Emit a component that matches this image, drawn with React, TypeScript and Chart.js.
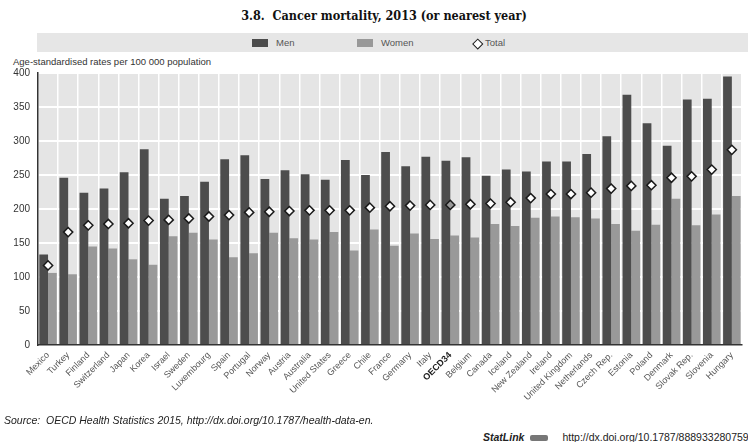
import React, { useEffect, useRef } from "react";
import { Chart, registerables } from "chart.js";

Chart.register(...registerables);

const categories = [
  "Mexico", "Turkey", "Finland", "Switzerland", "Japan", "Korea", "Israel", "Sweden",
  "Luxembourg", "Spain", "Portugal", "Norway", "Austria", "Australia", "United States",
  "Greece", "Chile", "France", "Germany", "Italy", "OECD34", "Belgium", "Canada",
  "Iceland", "New Zealand", "Ireland", "United Kingdom", "Netherlands", "Czech Rep.",
  "Estonia", "Poland", "Denmark", "Slovak Rep.", "Slovenia", "Hungary",
];

const menValues = [
  133, 246, 224, 230, 254, 288, 215, 219, 240, 273, 279, 244, 257, 251, 243, 272, 250,
  284, 263, 277, 271, 276, 249, 258, 255, 270, 270, 281, 307, 368, 326, 293, 361, 362, 395,
];

const womenValues = [
  106, 104, 145, 142, 126, 118, 160, 165, 155, 129, 135, 165, 157, 155, 166, 139, 170,
  146, 164, 156, 161, 158, 178, 175, 187, 189, 188, 186, 178, 168, 177, 215, 176, 192, 219,
];

const totalValues = [
  117, 166, 176, 178, 179, 183, 184, 186, 189, 191, 195, 196, 197, 198, 198, 198, 202,
  204, 205, 206, 206, 207, 208, 210, 216, 222, 222, 224, 230, 234, 235, 246, 248, 258, 287,
];

const yTicks = { min: 0, max: 400, step: 50 };

const highlight = "OECD34";

const MEN_COLOR = "#4d4d4d";
const WOMEN_COLOR = "#999999";
const SANS = "'Liberation Sans', Arial, sans-serif";

const plotBg = {
  id: "plotBg",
  beforeDraw(chart: any) {
    const { ctx, chartArea } = chart;
    if (!chartArea) return;
    ctx.save();
    ctx.fillStyle = "#e5e5e5";
    ctx.fillRect(chartArea.left, chartArea.top, chartArea.width, chartArea.height);
    ctx.restore();
  },
};

export default function App() {
  const ref = useRef<HTMLCanvasElement | null>(null);

  useEffect(() => {
    if (!ref.current) return;
    const hIdx = categories.indexOf(highlight);
    const chart = new Chart(ref.current, {
      type: "bar",
      data: {
        labels: categories,
        datasets: [
          {
            type: "line",
            label: "Total",
            data: totalValues,
            showLine: false,
            pointStyle: "rectRot",
            pointRadius: 4.6,
            pointBorderWidth: 1.5,
            pointBorderColor: "#1a1a1a",
            pointBackgroundColor: categories.map((_, i) => (i === hIdx ? "#999999" : "#ffffff")),
            order: 0,
          } as any,
          {
            label: "Men",
            data: menValues,
            backgroundColor: MEN_COLOR,
            categoryPercentage: 0.87,
            barPercentage: 1.0,
            order: 1,
          },
          {
            label: "Women",
            data: womenValues,
            backgroundColor: WOMEN_COLOR,
            categoryPercentage: 0.87,
            barPercentage: 1.0,
            order: 1,
          },
        ],
      },
      options: {
        responsive: false,
        animation: false,
        layout: { padding: { top: 17, right: 2, left: 0, bottom: 0 } },
        plugins: {
          legend: { display: false },
          tooltip: { enabled: false },
          title: { display: false },
        },
        scales: {
          x: {
            grid: {
              color: "#ffffff",
              lineWidth: 1.5,
              drawTicks: false,
              offset: true,
            },
            border: { color: "#333333", width: 1.5 },
            ticks: {
              autoSkip: false,
              maxRotation: 45,
              minRotation: 45,
              padding: 5,
              color: (ctx: any) => (ctx.index === hIdx ? "#1a1a1a" : "#555555"),
              font: (ctx: any) => ({
                family: SANS,
                size: 9,
                weight: ctx.index === hIdx ? "bold" : "normal",
              }),
            },
            afterFit(scale: any) {
              scale.height = 70;
            },
          },
          y: {
            min: yTicks.min,
            max: yTicks.max,
            grid: { color: "#ffffff", lineWidth: 2, drawTicks: false },
            border: { color: "#333333", width: 1.5 },
            ticks: {
              stepSize: yTicks.step,
              padding: 8,
              color: "#333333",
              font: { family: SANS, size: 10 },
            },
            afterFit(scale: any) {
              scale.width = 38;
            },
          },
        },
      },
      plugins: [plotBg],
    });
    return () => chart.destroy();
  }, []);

  const legendText: React.CSSProperties = {
    position: "absolute",
    top: 37,
    fontSize: 9.5,
    color: "#555",
    lineHeight: "12px",
  };

  return (
    <div
      style={{
        position: "absolute",
        left: 0,
        top: 0,
        width: 748,
        height: 442,
        overflow: "hidden",
        background: "#fff",
        fontFamily: SANS,
      }}
    >
      <div
        style={{
          position: "absolute",
          left: 0,
          top: 8,
          width: 768,
          textAlign: "center",
          fontFamily: "'DejaVu Serif', 'Liberation Serif', serif",
          fontStretch: "condensed",
          fontWeight: "bold",
          fontSize: 12.5,
          color: "#111",
          lineHeight: "16px",
          whiteSpace: "nowrap",
        }}
      >
        3.8.&nbsp; Cancer mortality, 2013 (or nearest year)
      </div>

      <div
        style={{
          position: "absolute",
          left: 37,
          top: 33,
          width: 711,
          height: 19,
          background: "#e6e6e6",
        }}
      />
      <div style={{ position: "absolute", left: 252, top: 39, width: 16, height: 8, background: MEN_COLOR }} />
      <div style={{ ...legendText, left: 276 }}>Men</div>
      <div style={{ position: "absolute", left: 357, top: 39, width: 16, height: 8, background: WOMEN_COLOR }} />
      <div style={{ ...legendText, left: 381 }}>Women</div>
      <div
        style={{
          position: "absolute",
          left: 474,
          top: 39.5,
          width: 5.5,
          height: 5.5,
          border: "1.5px solid #1a1a1a",
          background: "#fff",
          transform: "rotate(45deg)",
        }}
      />
      <div style={{ ...legendText, left: 485 }}>Total</div>

      <div
        style={{
          position: "absolute",
          left: 13,
          top: 56,
          fontSize: 9.5,
          color: "#333",
          lineHeight: "12px",
          whiteSpace: "nowrap",
        }}
      >
        Age-standardised rates per 100 000 population
      </div>

      <canvas
        ref={ref}
        width={748}
        height={359}
        style={{ position: "absolute", left: 0, top: 56, width: 748, height: 359 }}
      />

      <div
        style={{
          position: "absolute",
          left: 4,
          top: 414,
          fontSize: 10.5,
          fontStyle: "italic",
          color: "#222",
          lineHeight: "12px",
          whiteSpace: "nowrap",
        }}
      >
        Source:&nbsp; OECD Health Statistics 2015, http://dx.doi.org/10.1787/health-data-en.
      </div>

      <div
        style={{
          position: "absolute",
          left: 483,
          top: 431,
          fontSize: 10.5,
          color: "#222",
          lineHeight: "12px",
          whiteSpace: "nowrap",
        }}
      >
        <span style={{ fontWeight: "bold", fontStyle: "italic" }}>StatLink</span>
        <span
          style={{
            display: "inline-block",
            width: 18,
            height: 6,
            margin: "0 0 0 6px",
            background: "#777",
            borderRadius: 2,
            verticalAlign: "middle",
          }}
        />
        <span style={{ marginLeft: 14 }}>http://dx.doi.org/10.1787/888933280759</span>
      </div>
    </div>
  );
}
